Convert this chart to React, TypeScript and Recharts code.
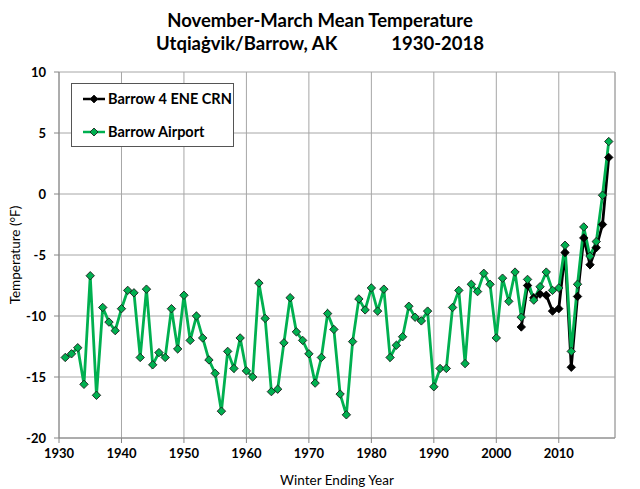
import { CartesianGrid, Label, Line, LineChart, ReferenceLine, XAxis, YAxis } from "recharts";

// winter ending year, Nov-Mar mean temperature (°F)
const years = [
  1931, 1932, 1933, 1934, 1935, 1936, 1937, 1938, 1939, 1940,
  1941, 1942, 1943, 1944, 1945, 1946, 1947, 1948, 1949, 1950,
  1951, 1952, 1953, 1954, 1955, 1956, 1957, 1958, 1959, 1960,
  1961, 1962, 1963, 1964, 1965, 1966, 1967, 1968, 1969, 1970,
  1971, 1972, 1973, 1974, 1975, 1976, 1977, 1978, 1979, 1980,
  1981, 1982, 1983, 1984, 1985, 1986, 1987, 1988, 1989, 1990,
  1991, 1992, 1993, 1994, 1995, 1996, 1997, 1998, 1999, 2000,
  2001, 2002, 2003, 2004, 2005, 2006, 2007, 2008, 2009, 2010,
  2011, 2012, 2013, 2014, 2015, 2016, 2017, 2018,
];

const airportTemps = [
  -13.4, -13.1, -12.6, -15.6, -6.7, -16.5, -9.3, -10.5, -11.2, -9.4,
  -7.9, -8.1, -13.4, -7.8, -14.0, -13.0, -13.4, -9.4, -12.7, -8.3,
  -12.0, -10.0, -11.8, -13.6, -14.7, -17.8, -12.9, -14.3, -11.8, -14.5,
  -15.0, -7.3, -10.2, -16.2, -16.0, -12.2, -8.5, -11.3, -12.0, -13.1,
  -15.5, -13.4, -9.8, -11.1, -16.4, -18.1, -12.1, -8.6, -9.5, -7.7,
  -9.6, -7.8, -13.4, -12.4, -11.7, -9.2, -10.1, -10.4, -9.6, -15.8,
  -14.3, -14.3, -9.3, -7.9, -13.9, -7.4, -8.0, -6.5, -7.4, -11.8,
  -6.9, -8.8, -6.4, -10.1, -7.0, -8.7, -7.6, -6.4, -7.9, -7.7,
  -4.2, -12.9, -7.4, -2.7, -5.1, -3.9, -0.1, 4.3,
];

const crnYears = [2004, 2005, 2006, 2007, 2008, 2009, 2010, 2011, 2012, 2013, 2014, 2015, 2016, 2017, 2018];
const crnTemps = [-10.9, -7.5, -8.5, -8.2, -8.3, -9.6, -9.4, -4.8, -14.2, -8.4, -3.6, -5.8, -4.4, -2.5, 3.0];

const xTicks = [1930, 1940, 1950, 1960, 1970, 1980, 1990, 2000, 2010];
const yTicks = [-20, -15, -10, -5, 0, 5, 10];

const GREEN = "#00b050";
const GRID = "#a6a6a6";
const FONT = "Lato, 'Open Sans', sans-serif";

const data = years.map((year, i) => {
  const j = crnYears.indexOf(year);
  return { year, airport: airportTemps[i], crn: j >= 0 ? crnTemps[j] : null };
});

function diamond(fill: string, stroke: string, name: string) {
  return (p: any) => {
    const { cx, cy, index } = p;
    if (cx == null || cy == null || p.value == null) return <g key={`${name}-${index}`} />;
    const r = 4.2;
    return (
      <polygon
        key={`${name}-${index}`}
        points={`${cx},${cy - r} ${cx + r},${cy} ${cx},${cy + r} ${cx - r},${cy}`}
        fill={fill}
        stroke={stroke}
        strokeWidth={0.9}
      />
    );
  };
}

function LegendIcon({ color, fill }: { color: string; fill: string }) {
  return (
    <svg width={24} height={10} style={{ display: "block" }}>
      <line x1={1} y1={5} x2={23} y2={5} stroke={color} strokeWidth={2.5} />
      <polygon points="12,1 16,5 12,9 8,5" fill={fill} stroke="#111" strokeWidth={0.8} />
    </svg>
  );
}

export default function App() {
  return (
    <div
      style={{
        position: "absolute",
        left: 0,
        top: 0,
        width: 640,
        height: 489,
        background: "#fff",
        fontFamily: FONT,
        color: "#000",
      }}
    >
      <div style={{ position: "absolute", left: 0, width: 640, top: 8, textAlign: "center", fontSize: 18.5, fontWeight: 700, lineHeight: "24px" }}>
        November-March Mean Temperature
      </div>
      <div style={{ position: "absolute", left: 0, width: 640, top: 31, textAlign: "center", fontSize: 18.5, fontWeight: 700, lineHeight: "24px", whiteSpace: "pre" }}>
        {"Utqiaġvik/Barrow, AK            1930-2018"}
      </div>

      <LineChart width={640} height={489} data={data} margin={{ top: 72, right: 25, left: 0, bottom: 31 }}>
        <CartesianGrid stroke={GRID} strokeWidth={1} />
        <ReferenceLine x={2019} stroke={GRID} strokeWidth={1} />
        <XAxis
          dataKey="year"
          type="number"
          domain={[1930, 2019]}
          ticks={xTicks}
          allowDataOverflow
          height={20}
          stroke="#868686"
          tickSize={5}
          tickMargin={6}
          tick={{ fill: "#000", fontSize: 13, fontWeight: 700, fontFamily: FONT }}
        />
        <YAxis
          type="number"
          domain={[-20, 10]}
          ticks={yTicks}
          width={59}
          stroke="#868686"
          tickSize={5}
          tickMargin={8}
          tick={{ fill: "#000", fontSize: 13, fontWeight: 700, fontFamily: FONT }}
        >
          <Label
            value="Temperature (°F)"
            angle={-90}
            position="insideLeft"
            offset={15}
            style={{ textAnchor: "middle", fill: "#000", fontSize: 13.5, fontFamily: FONT }}
          />
        </YAxis>
        <Line
          dataKey="crn"
          stroke="#000"
          strokeWidth={2.8}
          dot={diamond("#000", "#000", "crn")}
          isAnimationActive={false}
        />
        <Line
          dataKey="airport"
          stroke={GREEN}
          strokeWidth={2.8}
          dot={diamond(GREEN, "#1a1a1a", "air")}
          isAnimationActive={false}
        />
      </LineChart>

      <div style={{ position: "absolute", left: 0, width: 674, top: 471, textAlign: "center", fontSize: 13.5, lineHeight: "18px" }}>
        Winter Ending Year
      </div>

      <div
        style={{
          position: "absolute",
          left: 71,
          top: 83,
          width: 161,
          height: 62,
          border: "1px solid #555",
          background: "#fff",
          fontSize: 14.5,
          fontWeight: 700,
        }}
      >
        <div style={{ position: "absolute", left: 10, top: 6, display: "flex", alignItems: "center", gap: 2, lineHeight: "18px" }}>
          <LegendIcon color="#000" fill="#000" />
          <span>Barrow 4 ENE CRN</span>
        </div>
        <div style={{ position: "absolute", left: 10, top: 39, display: "flex", alignItems: "center", gap: 2, lineHeight: "18px" }}>
          <LegendIcon color={GREEN} fill={GREEN} />
          <span>Barrow Airport</span>
        </div>
      </div>
    </div>
  );
}
